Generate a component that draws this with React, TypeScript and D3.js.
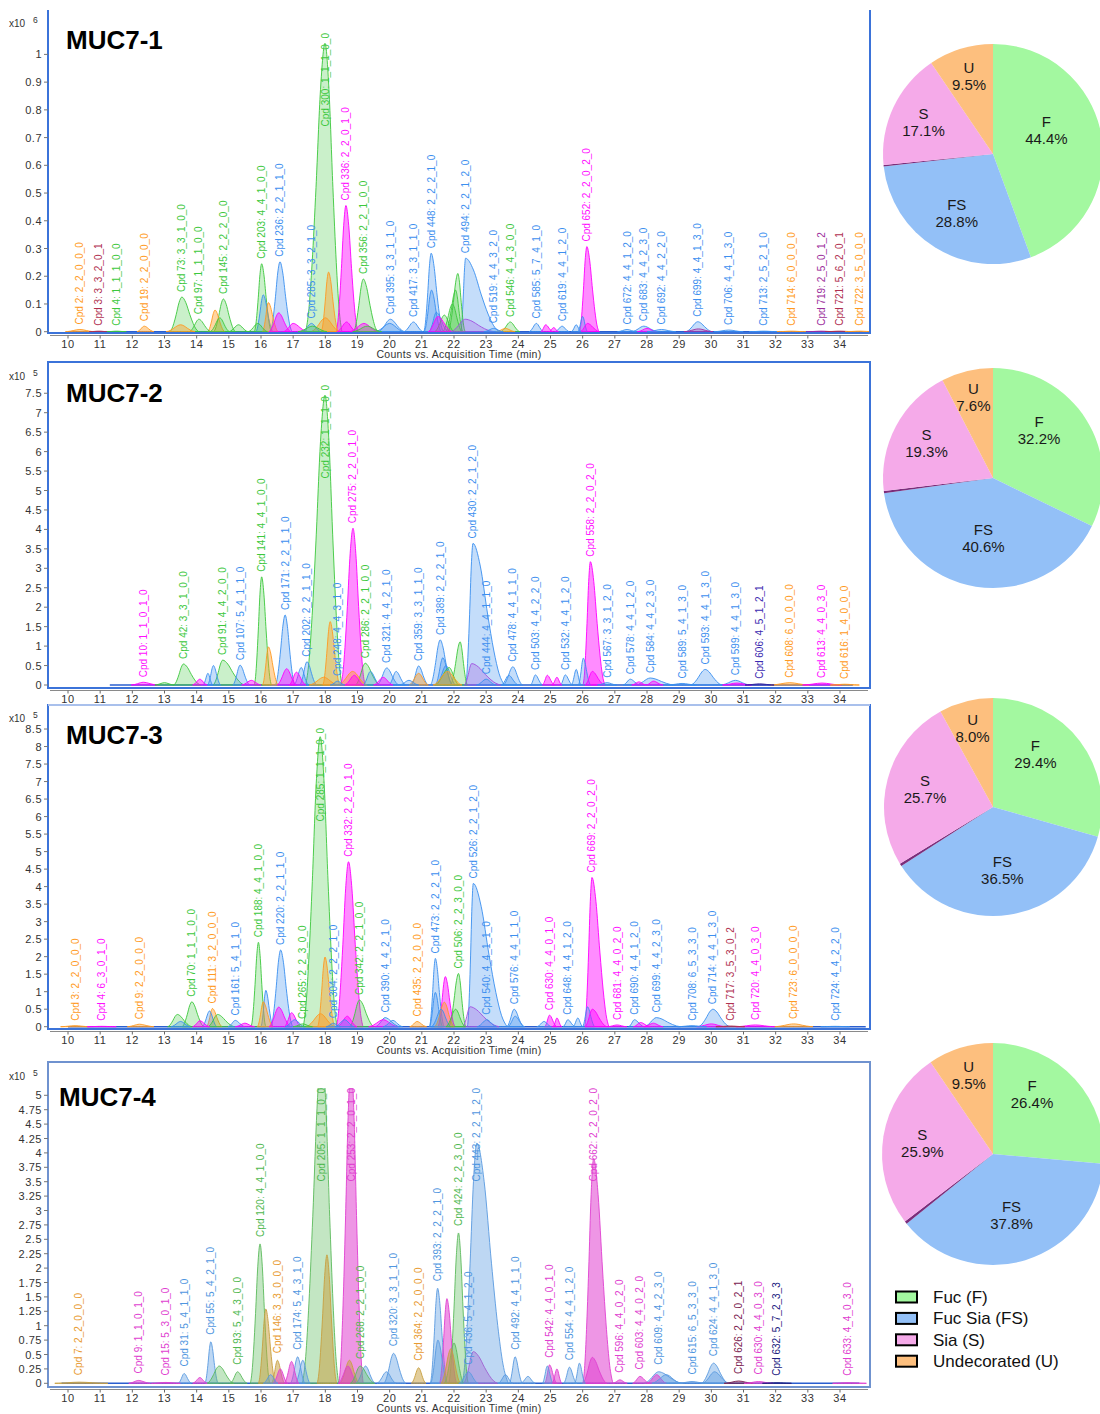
import React, { useEffect, useRef } from 'react';
import * as d3 from 'd3';

// [label, retention time (min), apex height, left half-width, right half-width, class]
type Compound = [string, number, number, number, number, string];
// [retention time (min), apex height, left half-width, right half-width, class]
type Peak = [number, number, number, number, string];

const sampleTitles = ['MUC7-1', 'MUC7-2', 'MUC7-3', 'MUC7-4'];
const exponents = ['6', '5', '5', '5'];
const timeTicks = [10, 11, 12, 13, 14, 15, 16, 17, 18, 19, 20, 21, 22, 23, 24, 25, 26, 27, 28, 29, 30, 31, 32, 33, 34];
const yTicks1 = [0, 0.1, 0.2, 0.3, 0.4, 0.5, 0.6, 0.7, 0.8, 0.9, 1];
const yTicks2 = [0, 0.5, 1, 1.5, 2, 2.5, 3, 3.5, 4, 4.5, 5, 5.5, 6, 6.5, 7, 7.5];
const yTicks3 = [0, 0.5, 1, 1.5, 2, 2.5, 3, 3.5, 4, 4.5, 5, 5.5, 6, 6.5, 7, 7.5, 8, 8.5];
const yTicks4 = [0, 0.25, 0.5, 0.75, 1, 1.25, 1.5, 1.75, 2, 2.25, 2.5, 2.75, 3, 3.25, 3.5, 3.75, 4, 4.25, 4.5, 4.75, 5];
const axisTitle = 'Counts vs. Acquisition Time (min)';
const traceRanges: [number, number][] = [[10.0, 34.7], [11.3, 34.4], [10.0, 34.8], [9.8, 34.6]];

const muc1Compounds: Compound[] = [
  ['Cpd 2: 2_2_0_0_0', 10.37, 0.008, 0.3, 0.3, 'U'],
  ['Cpd 3: 3_3_2_0_1', 10.96, 0.002, 0.2, 0.2, 'X'],
  ['Cpd 4: 1_1_1_0_0', 11.51, 0.002, 0.2, 0.2, 'F'],
  ['Cpd 19: 2_2_0_0_0', 12.37, 0.02, 0.15, 0.2, 'U'],
  ['Cpd 73: 3_3_1_0_0', 13.54, 0.125, 0.25, 0.35, 'F'],
  ['Cpd 97: 1_1_1_0_0', 14.07, 0.045, 0.2, 0.25, 'F'],
  ['Cpd 145: 2_2_2_0_0', 14.83, 0.118, 0.2, 0.25, 'F'],
  ['Cpd 203: 4_4_1_0_0', 16.02, 0.245, 0.15, 0.2, 'F'],
  ['Cpd 236: 2_2_1_1_0', 16.59, 0.252, 0.2, 0.25, 'FS'],
  ['Cpd 285: 3_3_2_1_0', 17.57, 0.03, 0.2, 0.2, 'FS'],
  ['Cpd 300: 1_1_1_0_0', 17.99, 1.04, 0.4, 0.35, 'F'],
  ['Cpd 336: 2_2_0_1_0', 18.64, 0.455, 0.2, 0.25, 'S'],
  ['Cpd 356: 2_2_1_0_0', 19.18, 0.19, 0.2, 0.3, 'F'],
  ['Cpd 395: 3_3_1_1_0', 20.02, 0.045, 0.25, 0.3, 'FS'],
  ['Cpd 417: 3_3_1_1_0', 20.74, 0.035, 0.2, 0.2, 'FS'],
  ['Cpd 448: 2_2_2_1_0', 21.29, 0.283, 0.15, 0.25, 'FS'],
  ['Cpd 494: 2_2_1_2_0', 22.36, 0.265, 0.1, 0.7, 'FS'],
  ['Cpd 519: 4_4_3_2_0', 23.23, 0.012, 0.2, 0.2, 'FS'],
  ['Cpd 546: 4_4_3_0_0', 23.75, 0.035, 0.2, 0.2, 'F'],
  ['Cpd 585: 5_7_4_1_0', 24.56, 0.03, 0.15, 0.15, 'FS'],
  ['Cpd 619: 4_4_1_2_0', 25.36, 0.02, 0.15, 0.15, 'FS'],
  ['Cpd 652: 2_2_0_2_0', 26.13, 0.307, 0.15, 0.25, 'S'],
  ['Cpd 672: 4_4_1_2_0', 27.38, 0.008, 0.2, 0.2, 'FS'],
  ['Cpd 683: 4_4_2_3_0', 27.9, 0.02, 0.25, 0.3, 'FS'],
  ['Cpd 692: 4_4_2_2_0', 28.45, 0.008, 0.3, 0.3, 'FS'],
  ['Cpd 699: 4_4_1_3_0', 29.58, 0.036, 0.25, 0.3, 'FS'],
  ['Cpd 706: 4_4_1_3_0', 30.54, 0.006, 0.3, 0.3, 'FS'],
  ['Cpd 713: 2_5_2_1_0', 31.63, 0.002, 0.3, 0.3, 'FS'],
  ['Cpd 714: 6_0_0_0_0', 32.49, 0.002, 0.3, 0.3, 'U'],
  ['Cpd 719: 2_5_0_1_2', 33.41, 0.002, 0.3, 0.3, 'P'],
  ['Cpd 721: 5_6_2_0_1', 33.99, 0.002, 0.3, 0.3, 'X'],
  ['Cpd 722: 3_5_0_0_0', 34.61, 0.002, 0.3, 0.3, 'U'],
];

const muc1Peaks: Peak[] = [
  [18.1, 0.215, 0.15, 0.2, 'U'], [16.23, 0.105, 0.12, 0.2, 'U'], [16.07, 0.133, 0.15, 0.2, 'FS'],
  [14.57, 0.078, 0.15, 0.2, 'U'], [14.72, 0.05, 0.2, 0.2, 'F'], [16.55, 0.068, 0.2, 0.25, 'S'],
  [18.0, 0.05, 0.3, 0.3, 'U'], [18.66, 0.035, 0.2, 0.2, 'S'], [17.0, 0.03, 0.2, 0.3, 'S'],
  [15.3, 0.025, 0.2, 0.2, 'F'], [13.5, 0.025, 0.3, 0.3, 'U'], [15.9, 0.03, 0.2, 0.2, 'F'],
  [21.3, 0.15, 0.15, 0.2, 'FS'], [21.45, 0.07, 0.15, 0.25, 'FS'], [21.5, 0.055, 0.2, 0.3, 'S'],
  [21.7, 0.06, 0.2, 0.2, 'F'], [22.12, 0.21, 0.2, 0.15, 'F'], [22.05, 0.15, 0.2, 0.15, 'F'],
  [21.95, 0.1, 0.2, 0.2, 'F'], [22.35, 0.045, 0.3, 0.6, 'V'], [20.0, 0.03, 0.3, 0.3, 'FS'],
  [19.2, 0.03, 0.3, 0.3, 'S'], [26.0, 0.055, 0.1, 0.1, 'FS'], [26.15, 0.03, 0.15, 0.25, 'S'],
  [24.85, 0.025, 0.1, 0.15, 'S'], [25.1, 0.015, 0.1, 0.1, 'S'], [25.8, 0.025, 0.1, 0.1, 'FS'],
  [28.0, 0.012, 0.2, 0.2, 'S'], [23.6, 0.012, 0.2, 0.2, 'U'], [29.6, 0.01, 0.3, 0.3, 'P'],
  [17.6, 0.02, 0.3, 0.3, 'F'], [19.3, 0.02, 0.3, 0.3, 'F'],
];

const muc2Compounds: Compound[] = [
  ['Cpd 10: 1_1_0_1_0', 12.34, 0.07, 0.25, 0.3, 'S'],
  ['Cpd 42: 3_3_1_0_0', 13.59, 0.54, 0.2, 0.35, 'F'],
  ['Cpd 91: 4_4_2_0_0', 14.81, 0.64, 0.2, 0.45, 'F'],
  ['Cpd 107: 5_4_1_1_0', 15.35, 0.51, 0.15, 0.2, 'FS'],
  ['Cpd 141: 4_4_1_0_0', 16.02, 2.78, 0.15, 0.2, 'F'],
  ['Cpd 171: 2_2_1_1_0', 16.75, 1.8, 0.2, 0.2, 'FS'],
  ['Cpd 202: 2_2_1_1_0', 17.43, 0.6, 0.15, 0.2, 'FS'],
  ['Cpd 232: 1_1_1_0_0', 17.99, 7.45, 0.4, 0.35, 'F'],
  ['Cpd 248: 4_4_3_1_0', 18.38, 0.1, 0.15, 0.15, 'FS'],
  ['Cpd 275: 2_2_0_1_0', 18.86, 4.03, 0.25, 0.25, 'S'],
  ['Cpd 286: 2_2_1_0_0', 19.24, 0.56, 0.2, 0.3, 'F'],
  ['Cpd 321: 4_4_2_1_0', 19.91, 0.44, 0.2, 0.25, 'FS'],
  ['Cpd 359: 3_3_1_1_0', 20.9, 0.49, 0.15, 0.2, 'FS'],
  ['Cpd 389: 2_2_2_1_0', 21.57, 1.16, 0.2, 0.25, 'FS'],
  ['Cpd 430: 2_2_1_2_0', 22.59, 3.64, 0.15, 0.65, 'FS'],
  ['Cpd 444: 4_4_1_1_0', 23.0, 0.15, 0.2, 0.2, 'FS'],
  ['Cpd 478: 4_4_1_1_0', 23.83, 0.47, 0.2, 0.2, 'FS'],
  ['Cpd 503: 4_4_2_2_0', 24.53, 0.26, 0.1, 0.15, 'FS'],
  ['Cpd 532: 4_4_1_2_0', 25.46, 0.26, 0.1, 0.15, 'FS'],
  ['Cpd 558: 2_2_0_2_0', 26.24, 3.17, 0.15, 0.3, 'S'],
  ['Cpd 567: 3_3_1_2_0', 26.76, 0.06, 0.2, 0.2, 'FS'],
  ['Cpd 578: 4_4_1_2_0', 27.48, 0.15, 0.15, 0.2, 'FS'],
  ['Cpd 584: 4_4_2_3_0', 28.1, 0.18, 0.3, 0.5, 'FS'],
  ['Cpd 589: 5_4_1_3_0', 29.09, 0.04, 0.3, 0.3, 'FS'],
  ['Cpd 593: 4_4_1_3_0', 29.81, 0.4, 0.3, 0.35, 'FS'],
  ['Cpd 599: 4_4_1_3_0', 30.75, 0.12, 0.3, 0.3, 'FS'],
  ['Cpd 606: 4_5_1_2_1', 31.5, 0.03, 0.3, 0.3, 'N'],
  ['Cpd 608: 6_0_0_0_0', 32.44, 0.06, 0.4, 0.4, 'U'],
  ['Cpd 613: 4_4_0_3_0', 33.44, 0.05, 0.4, 0.4, 'S'],
  ['Cpd 616: 1_4_0_0_0', 34.15, 0.02, 0.3, 0.3, 'U'],
];

const muc2Peaks: Peak[] = [
  [16.23, 0.98, 0.12, 0.2, 'U'], [18.15, 1.63, 0.15, 0.2, 'U'], [14.52, 0.5, 0.12, 0.15, 'FS'],
  [14.35, 0.3, 0.1, 0.1, 'FS'], [16.8, 0.42, 0.2, 0.2, 'S'], [17.1, 0.33, 0.15, 0.2, 'S'],
  [17.25, 0.45, 0.15, 0.15, 'FS'], [18.85, 0.35, 0.3, 0.3, 'U'], [18.9, 0.25, 0.2, 0.2, 'S'],
  [19.4, 0.35, 0.15, 0.2, 'FS'], [20.2, 0.35, 0.15, 0.2, 'FS'], [20.9, 0.3, 0.2, 0.2, 'U'],
  [21.65, 0.7, 0.15, 0.2, 'FS'], [21.75, 0.5, 0.2, 0.2, 'FS'], [21.85, 0.45, 0.3, 0.2, 'F'],
  [21.8, 0.35, 0.3, 0.3, 'U'], [22.19, 1.11, 0.2, 0.15, 'F'], [22.55, 0.55, 0.15, 0.6, 'V'],
  [23.7, 0.25, 0.15, 0.2, 'FS'], [24.9, 0.25, 0.1, 0.15, 'S'], [25.2, 0.2, 0.1, 0.1, 'S'],
  [25.8, 0.4, 0.1, 0.1, 'FS'], [26.02, 0.69, 0.1, 0.15, 'FS'], [26.3, 0.35, 0.15, 0.25, 'S'],
  [14.1, 0.15, 0.15, 0.15, 'S'], [13.0, 0.06, 0.2, 0.2, 'F'], [15.7, 0.12, 0.2, 0.2, 'S'],
  [19.8, 0.2, 0.2, 0.2, 'S'], [20.6, 0.12, 0.2, 0.2, 'FS'], [27.75, 0.08, 0.15, 0.15, 'S'],
  [28.2, 0.1, 0.15, 0.2, 'S'], [30.8, 0.05, 0.3, 0.3, 'S'], [17.95, 0.2, 0.3, 0.3, 'U'],
];

const muc3Compounds: Compound[] = [
  ['Cpd 3: 2_2_0_0_0', 10.22, 0.03, 0.3, 0.3, 'U'],
  ['Cpd 4: 6_3_0_1_0', 11.05, 0.01, 0.3, 0.3, 'S'],
  ['Cpd 9: 2_2_0_0_0', 12.22, 0.07, 0.25, 0.3, 'U'],
  ['Cpd 70: 1_1_1_0_0', 13.85, 0.71, 0.2, 0.25, 'F'],
  ['Cpd 111: 3_2_0_0_0', 14.49, 0.52, 0.12, 0.2, 'U'],
  ['Cpd 161: 5_4_1_1_0', 15.2, 0.18, 0.15, 0.2, 'FS'],
  ['Cpd 188: 4_4_1_0_0', 15.92, 2.41, 0.15, 0.15, 'F'],
  ['Cpd 220: 2_2_1_1_0', 16.61, 2.19, 0.2, 0.25, 'FS'],
  ['Cpd 265: 2_2_3_0_0', 17.3, 0.08, 0.2, 0.2, 'F'],
  ['Cpd 285: 1_1_1_0_0', 17.84, 8.28, 0.35, 0.35, 'F'],
  ['Cpd 304: 2_2_2_1_0', 18.25, 0.1, 0.15, 0.15, 'FS'],
  ['Cpd 332: 2_2_0_1_0', 18.72, 4.71, 0.25, 0.3, 'S'],
  ['Cpd 342: 2_2_1_0_0', 19.06, 0.76, 0.2, 0.3, 'F'],
  ['Cpd 390: 4_4_2_1_0', 19.86, 0.26, 0.2, 0.3, 'FS'],
  ['Cpd 435: 2_2_0_0_0', 20.85, 0.15, 0.15, 0.2, 'U'],
  ['Cpd 473: 2_2_2_1_0', 21.42, 1.95, 0.12, 0.18, 'FS'],
  ['Cpd 506: 2_2_3_0_0', 22.14, 1.52, 0.2, 0.15, 'F'],
  ['Cpd 526: 2_2_1_2_0', 22.6, 4.09, 0.12, 0.7, 'FS'],
  ['Cpd 540: 4_4_1_1_0', 23.02, 0.2, 0.2, 0.2, 'FS'],
  ['Cpd 576: 4_4_1_1_0', 23.87, 0.5, 0.15, 0.2, 'FS'],
  ['Cpd 630: 4_4_0_1_0', 24.97, 0.33, 0.1, 0.15, 'S'],
  ['Cpd 648: 4_4_1_2_0', 25.54, 0.2, 0.1, 0.15, 'FS'],
  ['Cpd 669: 2_2_0_2_0', 26.29, 4.26, 0.15, 0.35, 'S'],
  ['Cpd 681: 4_4_0_2_0', 27.07, 0.05, 0.2, 0.2, 'S'],
  ['Cpd 690: 4_4_1_2_0', 27.61, 0.2, 0.12, 0.2, 'FS'],
  ['Cpd 699: 4_4_2_3_0', 28.29, 0.26, 0.25, 0.5, 'FS'],
  ['Cpd 708: 6_5_3_3_0', 29.4, 0.03, 0.3, 0.3, 'FS'],
  ['Cpd 714: 4_4_1_3_0', 30.05, 0.5, 0.3, 0.35, 'FS'],
  ['Cpd 717: 3_5_3_0_2', 30.59, 0.02, 0.3, 0.3, 'X'],
  ['Cpd 720: 4_4_0_3_0', 31.37, 0.05, 0.4, 0.4, 'S'],
  ['Cpd 723: 6_0_0_0_0', 32.56, 0.08, 0.4, 0.4, 'U'],
  ['Cpd 724: 4_4_2_2_0', 33.85, 0.01, 0.3, 0.3, 'FS'],
];

const muc3Peaks: Peak[] = [
  [17.99, 1.99, 0.15, 0.2, 'U'], [16.07, 0.71, 0.12, 0.2, 'U'], [16.15, 1.04, 0.1, 0.15, 'FS'],
  [13.4, 0.35, 0.2, 0.3, 'F'], [13.5, 0.15, 0.2, 0.2, 'FS'], [14.4, 0.45, 0.15, 0.15, 'FS'],
  [14.1, 0.17, 0.15, 0.2, 'S'], [14.65, 0.35, 0.2, 0.35, 'F'], [16.55, 0.56, 0.2, 0.25, 'S'],
  [16.95, 0.4, 0.15, 0.2, 'S'], [17.05, 0.2, 0.2, 0.2, 'FS'], [17.85, 0.37, 0.3, 0.3, 'U'],
  [18.68, 0.3, 0.2, 0.2, 'S'], [18.6, 0.2, 0.2, 0.2, 'FS'], [19.8, 0.2, 0.3, 0.3, 'S'],
  [20.1, 0.18, 0.2, 0.2, 'FS'], [21.42, 0.98, 0.12, 0.15, 'FS'], [21.73, 1.43, 0.15, 0.2, 'S'],
  [21.7, 0.7, 0.2, 0.2, 'U'], [21.6, 0.5, 0.2, 0.2, 'FS'], [22.05, 0.5, 0.2, 0.2, 'F'],
  [22.5, 0.57, 0.15, 0.6, 'V'], [23.9, 0.3, 0.15, 0.2, 'FS'], [24.8, 0.15, 0.15, 0.15, 'FS'],
  [25.2, 0.25, 0.08, 0.1, 'S'], [25.85, 0.25, 0.1, 0.1, 'FS'], [26.15, 0.57, 0.1, 0.15, 'FS'],
  [26.3, 0.5, 0.15, 0.3, 'S'], [27.8, 0.12, 0.15, 0.2, 'S'], [28.2, 0.1, 0.2, 0.2, 'S'],
  [30.0, 0.08, 0.3, 0.3, 'S'], [15.5, 0.1, 0.2, 0.2, 'S'],
];

const muc4Compounds: Compound[] = [
  ['Cpd 7: 2_2_0_0_0', 10.34, 0.02, 0.5, 0.6, 'U'],
  ['Cpd 9: 1_1_0_1_0', 12.19, 0.05, 0.2, 0.25, 'S'],
  ['Cpd 15: 5_3_0_1_0', 13.04, 0.015, 0.3, 0.3, 'S'],
  ['Cpd 31: 5_4_1_1_0', 13.61, 0.17, 0.12, 0.15, 'FS'],
  ['Cpd 55: 5_4_2_1_0', 14.44, 0.72, 0.12, 0.15, 'FS'],
  ['Cpd 93: 5_4_3_0_0', 15.27, 0.2, 0.15, 0.2, 'F'],
  ['Cpd 120: 4_4_1_0_0', 15.97, 2.42, 0.2, 0.2, 'F'],
  ['Cpd 146: 3_3_0_0_0', 16.51, 0.4, 0.12, 0.15, 'U'],
  ['Cpd 174: 5_4_3_1_0', 17.14, 0.46, 0.15, 0.15, 'FS'],
  ['Cpd 205: 1_1_1_0_0', 17.89, 5.8, 0.4, 0.35, 'F'],
  ['Cpd 253: 2_2_0_1_0', 18.8, 5.6, 0.25, 0.25, 'S'],
  ['Cpd 268: 2_2_1_0_0', 19.08, 0.3, 0.2, 0.3, 'F'],
  ['Cpd 320: 3_3_1_1_0', 20.12, 0.52, 0.2, 0.25, 'FS'],
  ['Cpd 364: 2_2_0_0_0', 20.9, 0.27, 0.15, 0.15, 'U'],
  ['Cpd 393: 2_2_2_1_0', 21.49, 1.65, 0.15, 0.2, 'FS'],
  ['Cpd 424: 2_2_3_0_0', 22.14, 2.61, 0.2, 0.2, 'F'],
  ['Cpd 436: 5_4_1_2_0', 22.45, 0.2, 0.2, 0.2, 'FS'],
  ['Cpd 443: 2_2_1_2_0', 22.71, 4.17, 0.3, 0.65, 'FS'],
  ['Cpd 492: 4_4_1_1_0', 23.9, 0.46, 0.12, 0.15, 'FS'],
  ['Cpd 542: 4_4_0_1_0', 24.97, 0.32, 0.1, 0.15, 'S'],
  ['Cpd 554: 4_4_1_2_0', 25.59, 0.28, 0.12, 0.15, 'FS'],
  ['Cpd 662: 2_2_0_2_0', 26.34, 3.9, 0.22, 0.4, 'S'],
  ['Cpd 596: 4_4_0_2_0', 27.16, 0.06, 0.15, 0.15, 'S'],
  ['Cpd 603: 4_4_0_2_0', 27.78, 0.12, 0.15, 0.2, 'S'],
  ['Cpd 609: 4_4_2_3_0', 28.36, 0.2, 0.3, 0.5, 'FS'],
  ['Cpd 615: 6_5_3_3_0', 29.4, 0.03, 0.3, 0.3, 'FS'],
  ['Cpd 624: 4_4_1_3_0', 30.07, 0.35, 0.25, 0.3, 'FS'],
  ['Cpd 626: 2_2_0_2_1', 30.85, 0.04, 0.3, 0.3, 'X'],
  ['Cpd 630: 4_4_0_3_0', 31.47, 0.03, 0.3, 0.3, 'S'],
  ['Cpd 632: 5_7_2_3_3', 32.04, 0.01, 0.3, 0.3, 'N'],
  ['Cpd 633: 4_4_0_3_0', 34.22, 0.01, 0.3, 0.4, 'S'],
];

const muc4Peaks: Peak[] = [
  [18.05, 2.23, 0.2, 0.2, 'U'], [16.15, 1.29, 0.15, 0.2, 'U'], [14.7, 0.3, 0.25, 0.3, 'F'],
  [16.3, 0.15, 0.15, 0.15, 'FS'], [16.6, 0.25, 0.15, 0.15, 'S'], [16.95, 0.38, 0.15, 0.15, 'S'],
  [17.3, 0.4, 0.15, 0.15, 'FS'], [18.75, 0.4, 0.2, 0.2, 'U'], [18.7, 0.3, 0.2, 0.2, 'S'],
  [19.25, 0.3, 0.2, 0.2, 'FS'], [19.9, 0.2, 0.2, 0.2, 'FS'], [14.1, 0.1, 0.15, 0.15, 'S'],
  [21.5, 0.75, 0.15, 0.2, 'FS'], [21.78, 1.47, 0.15, 0.2, 'S'], [21.9, 0.6, 0.2, 0.2, 'U'],
  [22.0, 0.7, 0.2, 0.2, 'F'], [22.6, 0.55, 0.2, 0.5, 'V'], [24.9, 0.3, 0.1, 0.12, 'FS'],
  [25.2, 0.25, 0.1, 0.1, 'S'], [25.9, 0.35, 0.1, 0.12, 'FS'], [26.3, 0.45, 0.2, 0.3, 'S'],
  [28.3, 0.15, 0.2, 0.2, 'S'], [28.6, 0.15, 0.3, 0.3, 'FS'], [30.1, 0.2, 0.25, 0.3, 'FS'],
  [24.3, 0.12, 0.15, 0.15, 'FS'], [23.6, 0.15, 0.15, 0.15, 'FS'],
];

// Glycan class share (%) per sample, in the order F, FS, S, U
const pieClasses = ['F', 'FS', 'S', 'U'];
const pie1 = [44.4, 28.8, 17.1, 9.5];
const pie2 = [32.2, 40.6, 19.3, 7.6];
const pie3 = [29.4, 36.5, 25.7, 8.0];
const pie4 = [26.4, 37.8, 25.9, 9.5];
const legendLabels = ['Fuc (F)', 'Fuc Sia (FS)', 'Sia (S)', 'Undecorated (U)'];

const FONT = "'Liberation Sans', Arial, sans-serif";

const traceStroke: Record<string, string> = {
  F: '#3cc83c', FS: '#3a8ff0', S: '#ff00ff', U: '#ff9a22', V: '#a050e0', X: '#b03050', P: '#a02ca0', N: '#3020a0',
};
const traceFillOpacity: Record<string, number> = { F: 0.27, FS: 0.3, S: 0.45, U: 0.42, V: 0.28, X: 0.3, P: 0.3, N: 0.3 };
const mutedStroke: Record<string, string> = {
  F: '#5cba5c', FS: '#5a9ae0', S: '#e040d0', U: '#c8a040', V: '#a060d0', X: '#7a2050', P: '#8a3090', N: '#202080',
};
const labelColor: Record<string, string> = {
  F: '#3cc83c', FS: '#3d8fef', S: '#ff10ff', U: '#ff9a22', X: '#b03050', P: '#9c2f9c', N: '#3a2ab0',
};
const mutedLabel: Record<string, string> = {
  F: '#4fb84f', FS: '#4f96e0', S: '#e040d0', U: '#e89a30', X: '#7a2050', P: '#8a3090', N: '#202080',
};
const pieColors: Record<string, string> = { F: '#a3f8a0', FS: '#93c0f7', S: '#f5aae9', U: '#fdbf7e', other: '#7b2d7b' };

// Normalised shape of a single chromatographic peak (offset in half-widths, relative height)
const PEAK_SHAPE: [number, number][] = [
  [-1.5, 0], [-1.25, 0.08], [-1.0, 0.24], [-0.7, 0.5], [-0.35, 0.84], [0, 1],
  [0.35, 0.84], [0.7, 0.5], [1.0, 0.24], [1.25, 0.08], [1.5, 0],
];

const layouts = [
  { top: 10, bottom: 333, zeroY: 331.7, unit: 277.3, clipTop: 10, labelTop: 33, titleX: 66, titleY: 49, expY: 27, title: true, frame: 'open', pieY: 154, pieR: 110, muted: false, gap: 5 },
  { top: 362, bottom: 688, zeroY: 685, unit: 38.9, clipTop: 363, labelTop: 385, titleX: 66, titleY: 402, expY: 380, title: false, frame: 'box', pieY: 478, pieR: 110, muted: false, gap: 5 },
  { top: 705, bottom: 1029, zeroY: 1026.7, unit: 35.02, clipTop: 706, labelTop: 728, titleX: 66, titleY: 744, expY: 722, title: true, frame: 'box', pieY: 807, pieR: 109, muted: false, gap: 5 },
  { top: 1062, bottom: 1387, zeroY: 1383.3, unit: 57.6, clipTop: 1088, labelTop: 1088, titleX: 59, titleY: 1106, expY: 1080, title: true, frame: 'box', pieY: 1154, pieR: 111, muted: true, gap: 7 },
];

const compoundSets = [muc1Compounds, muc2Compounds, muc3Compounds, muc4Compounds];
const peakSets = [muc1Peaks, muc2Peaks, muc3Peaks, muc4Peaks];
const yTickSets = [yTicks1, yTicks2, yTicks3, yTicks4];
const pieSets = [pie1, pie2, pie3, pie4];

export default function App() {
  const ref = useRef<SVGSVGElement>(null);

  useEffect(() => {
    const svg = d3.select(ref.current);
    svg.selectAll('*').remove();
    const defs = svg.append('defs');

    const left = 48;
    const right = 870;
    const x = d3.scaleLinear().domain([10, 34]).range([68, 840]);

    layouts.forEach((L, i) => {
      const g = svg.append('g');
      const y = d3.scaleLinear().domain([0, 1]).range([L.zeroY, L.zeroY - L.unit]);
      const strokes = L.muted ? mutedStroke : traceStroke;
      const labels = L.muted ? mutedLabel : labelColor;

      defs.append('clipPath').attr('id', `clip${i}`)
        .append('rect').attr('x', left + 1).attr('y', L.clipTop)
        .attr('width', right - left - 2).attr('height', L.bottom - L.clipTop);

      // frame
      if (L.frame === 'open') {
        g.append('line').attr('x1', left).attr('x2', left).attr('y1', L.top).attr('y2', L.bottom + 1)
          .attr('stroke', '#3b73d9').attr('stroke-width', 2);
        g.append('line').attr('x1', right).attr('x2', right).attr('y1', L.top).attr('y2', L.bottom + 1)
          .attr('stroke', '#3b73d9').attr('stroke-width', 2);
      } else {
        g.append('rect').attr('x', left).attr('y', L.top).attr('width', right - left).attr('height', L.bottom - L.top)
          .attr('fill', 'none').attr('stroke', L.muted ? '#6f92cf' : '#3b73d9').attr('stroke-width', 2);
        if (i === 2) {
          g.append('line').attr('x1', left).attr('x2', right).attr('y1', L.top).attr('y2', L.top)
            .attr('stroke', '#a9c0ec').attr('stroke-width', 2);
        }
      }

      // peaks
      const all: Peak[] = [
        ...peakSets[i],
        ...compoundSets[i].map((c) => [c[1], c[2], c[3], c[4], c[5]] as Peak),
      ].sort((a, b) => b[1] - a[1]);

      const area = d3.area<[number, number]>()
        .x((d) => x(d[0]))
        .y0(y(0))
        .y1((d) => y(d[1]))
        .curve(d3.curveMonotoneX);

      const plot = g.append('g').attr('clip-path', `url(#clip${i})`);
      const [t0, t1] = traceRanges[i];
      plot.append('line').attr('x1', x(t0)).attr('x2', x(t1)).attr('y1', y(0)).attr('y2', y(0))
        .attr('stroke', '#2a5fd0').attr('stroke-width', 1.5);

      all.forEach(([t, h, wl, wr, cls]) => {
        const pts: [number, number][] = PEAK_SHAPE.map(([p, q]) => [t + (p < 0 ? p * wl : p * wr), h * q]);
        plot.append('path').attr('d', area(pts) as string)
          .attr('fill', strokes[cls])
          .attr('fill-opacity', (traceFillOpacity[cls] ?? 0.3) + (L.muted ? 0.1 : 0))
          .attr('stroke', strokes[cls]).attr('stroke-width', 1).attr('stroke-opacity', 0.9);
      });

      // bottom frame edge for the open panel
      if (L.frame === 'open') {
        g.append('line').attr('x1', left).attr('x2', right).attr('y1', L.bottom).attr('y2', L.bottom)
          .attr('stroke', '#3b73d9').attr('stroke-width', 2);
      }

      // x axis
      const ax = L.bottom + 2.5;
      g.append('line').attr('x1', left + 2).attr('x2', right - 2).attr('y1', ax).attr('y2', ax)
        .attr('stroke', '#8a8a8a').attr('stroke-width', 1);
      timeTicks.forEach((t) => {
        g.append('line').attr('x1', x(t)).attr('x2', x(t)).attr('y1', ax).attr('y2', ax + 3)
          .attr('stroke', '#666').attr('stroke-width', 1);
        g.append('text').attr('x', x(t)).attr('y', L.bottom + 15).attr('text-anchor', 'middle')
          .attr('font-family', FONT).attr('font-size', 11).attr('letter-spacing', 0.6)
          .attr('fill', '#333').text(String(t));
      });
      if (L.title) {
        g.append('text').attr('x', 459).attr('y', L.bottom + 25).attr('text-anchor', 'middle')
          .attr('font-family', FONT).attr('font-size', 10.5).attr('letter-spacing', 0.3)
          .attr('fill', '#333').text(axisTitle);
      }

      // y axis
      yTickSets[i].forEach((v) => {
        g.append('line').attr('x1', left - 4).attr('x2', left).attr('y1', y(v)).attr('y2', y(v))
          .attr('stroke', '#777').attr('stroke-width', 1);
        g.append('text').attr('x', left - 6).attr('y', y(v) + 4).attr('text-anchor', 'end')
          .attr('font-family', FONT).attr('font-size', 11).attr('letter-spacing', 0.5)
          .attr('fill', '#333').text(String(v));
      });
      g.append('text').attr('x', 9).attr('y', L.expY).attr('font-family', FONT).attr('font-size', 10)
        .attr('fill', '#333').text('x10');
      g.append('text').attr('x', 33).attr('y', L.expY - 4).attr('font-family', FONT).attr('font-size', 8.5)
        .attr('fill', '#333').text(exponents[i]);

      // sample title
      g.append('text').attr('x', L.titleX).attr('y', L.titleY).attr('font-family', FONT)
        .attr('font-size', 26).attr('font-weight', 'bold').attr('fill', '#000').text(sampleTitles[i]);

      // compound labels
      compoundSets[i].forEach(([label, t, h, , , cls]) => {
        const px = x(t) + 3.5;
        const start = Math.min(y(h) - L.gap, L.zeroY - 6);
        const txt = g.append('text')
          .attr('font-family', FONT).attr('font-size', 10)
          .attr('fill', labels[cls]).text(label);
        const len = (txt.node() as SVGTextElement).getComputedTextLength();
        const py = Math.max(start, L.labelTop + len);
        txt.attr('transform', `translate(${px},${py}) rotate(-90)`);
      });

      // class share pie
      const vals = pieSets[i];
      const rest = Math.max(0, 100 - d3.sum(vals));
      const items = [
        { k: 'F', v: vals[0] }, { k: 'FS', v: vals[1] }, { k: 'other', v: rest },
        { k: 'S', v: vals[2] }, { k: 'U', v: vals[3] },
      ];
      const arcs = d3.pie<{ k: string; v: number }>().sort(null).value((d) => d.v)(items);
      const arc = d3.arc<d3.PieArcDatum<{ k: string; v: number }>>().innerRadius(0).outerRadius(L.pieR);
      const pg = svg.append('g').attr('transform', `translate(993,${L.pieY})`);
      arcs.forEach((a) => {
        pg.append('path').attr('d', arc(a) as string).attr('fill', pieColors[a.data.k]);
      });
      arcs.filter((a) => a.data.k !== 'other').forEach((a, j) => {
        const frac = a.data.v / 100;
        const rl = L.pieR * (0.8 - 0.6 * frac);
        // the first slice's label sits a little ahead of the slice bisector
        const mid = (a.startAngle + a.endAngle) / 2 - (j === 0 ? 0.25 : 0);
        const cx = rl * Math.sin(mid);
        const cy = -rl * Math.cos(mid);
        const t = pg.append('text').attr('text-anchor', 'middle').attr('font-family', FONT)
          .attr('font-size', 15).attr('fill', '#1a1a1a');
        t.append('tspan').attr('x', cx).attr('y', cy - 3).text(a.data.k);
        t.append('tspan').attr('x', cx).attr('y', cy + 14).text(`${a.data.v.toFixed(1)}%`);
      });
    });

    // legend
    const lg = svg.append('g');
    pieClasses.forEach((k, j) => {
      const cy = 1297 + j * 21.4;
      lg.append('rect').attr('x', 896).attr('y', cy - 5.5).attr('width', 21).attr('height', 11)
        .attr('fill', pieColors[k]).attr('stroke', '#000').attr('stroke-width', 2);
      lg.append('text').attr('x', 933).attr('y', cy + 6).attr('font-family', FONT).attr('font-size', 17)
        .attr('fill', '#111').text(legendLabels[j]);
    });
  }, []);

  return (
    <svg
      ref={ref}
      width={1100}
      height={1414}
      style={{ position: 'absolute', left: 0, top: 0, background: '#fff' }}
    />
  );
}
